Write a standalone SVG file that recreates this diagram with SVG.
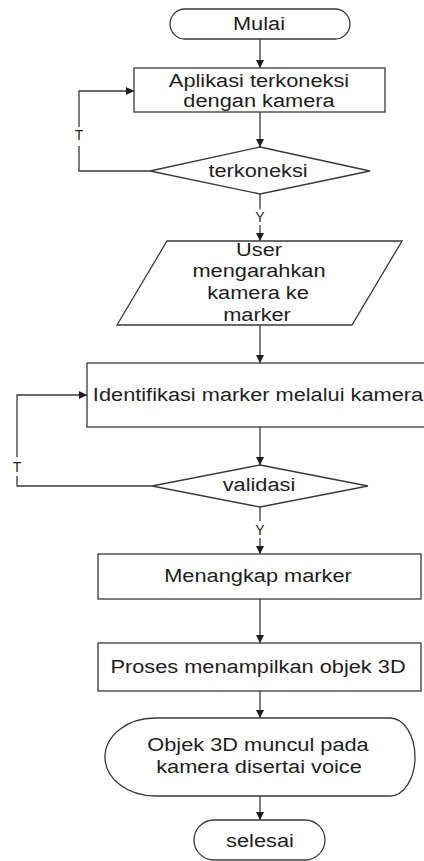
<svg xmlns="http://www.w3.org/2000/svg" width="424" height="861" viewBox="0 0 424 861">
<style>
.s{fill:#fff;stroke:#3a3a3a;stroke-width:1.3}
.c{fill:none;stroke:#3a3a3a;stroke-width:1.3}
text{font-family:"Liberation Sans",Arial,sans-serif;font-size:18px;fill:#1e1e1e;text-anchor:middle}
.l{font-size:14px}
</style>
<defs>
<marker id="a" viewBox="0 0 10 10" refX="10" refY="5" markerWidth="8" markerHeight="8" markerUnits="userSpaceOnUse" orient="auto">
<path d="M0,0 L10,5 L0,10 z" fill="#1e1e1e"/>
</marker>
</defs>
<rect width="424" height="861" fill="#fff"/>
<g id="connectors">
<path class="c" d="M260,39 V68" marker-end="url(#a)"/>
<path class="c" d="M260,112 V147" marker-end="url(#a)"/>
<path class="c" d="M150,171 H79 V146"/>
<path class="c" d="M79,127 V91 H134" marker-end="url(#a)"/>
<text class="l" x="79" y="140">T</text>
<path class="c" d="M260,194 V209"/>
<text class="l" x="260" y="222">Y</text>
<path class="c" d="M260,225 V241" marker-end="url(#a)"/>
<path class="c" d="M260,325 V363" marker-end="url(#a)"/>
<path class="c" d="M260,427 V465" marker-end="url(#a)"/>
<path class="c" d="M152,486 H17 V476"/>
<path class="c" d="M17,457 V395 H87" marker-end="url(#a)"/>
<text class="l" x="17" y="472">T</text>
<path class="c" d="M260,507 V521"/>
<text class="l" x="260" y="535">Y</text>
<path class="c" d="M260,538 V554" marker-end="url(#a)"/>
<path class="c" d="M260,599 V643" marker-end="url(#a)"/>
<path class="c" d="M260,691 V718" marker-end="url(#a)"/>
<path class="c" d="M260,796 V820" marker-end="url(#a)"/>
</g>
<g id="mulai">
<rect class="s" x="170" y="9" width="180" height="30" rx="15"/>
<text transform="translate(259,30) scale(1.21,1)">Mulai</text>
</g>
<g id="aplikasi">
<rect class="s" x="134" y="68" width="251" height="44"/>
<text transform="translate(259,87) scale(1.21,1)">Aplikasi terkoneksi</text>
<text transform="translate(259,107) scale(1.21,1)">dengan kamera</text>
</g>
<g id="terkoneksi">
<polygon class="s" points="260,147 370,171 260,194 150,171"/>
<text transform="translate(258,177) scale(1.21,1)">terkoneksi</text>
</g>
<g id="user">
<polygon class="s" points="167,241 402,241 352,325 117,325"/>
<text transform="translate(259,256) scale(1.21,1)">User</text>
<text transform="translate(259,277) scale(1.21,1)">mengarahkan</text>
<text transform="translate(258,299) scale(1.21,1)">kamera ke</text>
<text transform="translate(257,321) scale(1.21,1)">marker</text>
</g>
<g id="identifikasi">
<rect class="s" x="87" y="363" width="345" height="64"/>
<text transform="translate(258,401) scale(1.21,1)">Identifikasi marker melalui kamera</text>
</g>
<g id="validasi">
<polygon class="s" points="260,465 368,486 260,507 152,486"/>
<text transform="translate(259,491) scale(1.21,1)">validasi</text>
</g>
<g id="menangkap">
<rect class="s" x="98" y="554" width="323" height="45"/>
<text transform="translate(258,582) scale(1.21,1)">Menangkap marker</text>
</g>
<g id="proses">
<rect class="s" x="98" y="643" width="323" height="48"/>
<text transform="translate(258,673) scale(1.21,1)">Proses menampilkan objek 3D</text>
</g>
<g id="objek">
<path class="s" d="M155,718 H390 A25,39 0 0 1 390,796 H155 A50,39 0 0 1 155,718 Z"/>
<text transform="translate(258,751) scale(1.21,1)">Objek 3D muncul pada</text>
<text transform="translate(259,773) scale(1.21,1)">kamera disertai voice</text>
</g>
<g id="selesai">
<rect class="s" x="194" y="820" width="131" height="40" rx="20"/>
<text transform="translate(260,847) scale(1.21,1)">selesai</text>
</g>
</svg>
